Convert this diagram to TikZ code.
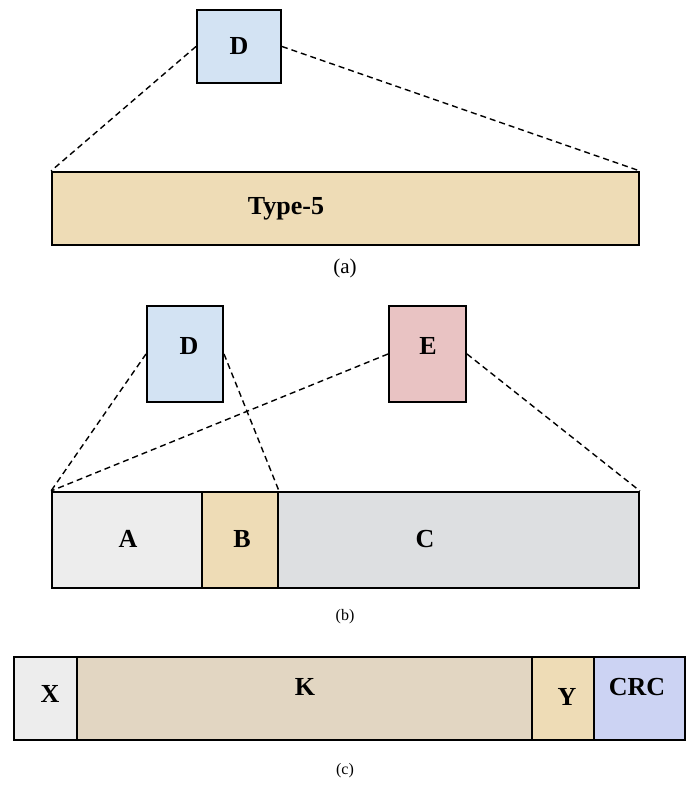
\documentclass[tikz,border=0pt]{standalone}
\usepackage{fontspec}
\setmainfont{Liberation Serif}
\definecolor{cD}{HTML}{D3E3F3}
\definecolor{cTan}{HTML}{EEDCB6}
\definecolor{cE}{HTML}{E9C3C3}
\definecolor{cA}{HTML}{EDEDED}
\definecolor{cC}{HTML}{DDDFE1}
\definecolor{cK}{HTML}{E2D6C2}
\definecolor{cCRC}{HTML}{CCD3F3}
\begin{document}
\begin{tikzpicture}[x=1pt,y=-1pt,
  box/.style={draw=black,line width=2pt,inner sep=0pt,anchor=north west},
  conn/.style={dashed,line width=1.4pt,dash pattern=on 6pt off 4pt},
  big/.style={font=\fontsize{26}{26}\selectfont\bfseries},
  captext/.style={font=\fontsize{21}{21}\selectfont},
  capsmall/.style={font=\fontsize{16}{16}\selectfont}]
\useasboundingbox (0,0) rectangle (690,791);
% (a)
\node[box,fill=cD,minimum width=84pt,minimum height=73pt] (Da) at (196,9) {};
\node[box,fill=cTan,minimum width=587pt,minimum height=73pt] (T5) at (51,171) {};
\node[big] (lDa) at (239,46) {D};
\node[big] (lT5) at (286,209) {Type-5};
\draw[conn] (Da.west) -- (T5.north west);
\draw[conn] (Da.east) -- (T5.north east);
\node[captext] (capa) at (345,268) {(a)};
% (b)
\node[box,fill=cD,minimum width=76pt,minimum height=96pt] (Db) at (146,305) {};
\node[box,fill=cE,minimum width=77pt,minimum height=96pt] (Eb) at (388,305) {};
\node[big] (lDb) at (189,346) {D};
\node[big] (lEb) at (428,346) {E};
\node[box,fill=cA,minimum width=150pt,minimum height=96pt] (Ab) at (51,491) {};
\node[box,fill=cTan,minimum width=76pt,minimum height=96pt] (Bb) at (201,491) {};
\node[box,fill=cC,minimum width=361pt,minimum height=96pt] (Cb) at (277,491) {};
\node[big] (lA) at (128,539) {A};
\node[big] (lB) at (242,539) {B};
\node[big] (lC) at (425,539) {C};
\draw[conn] (Db.west) -- (Ab.north west);
\draw[conn] (Db.east) -- (Bb.north east);
\draw[conn] (Eb.west) -- (Ab.north west);
\draw[conn] (Eb.east) -- (Cb.north east);
\node[capsmall] (capb) at (345,617) {(b)};
% (c)
\node[box,fill=cA,minimum width=63pt,minimum height=83pt] (Xc) at (13,656) {};
\node[box,fill=cK,minimum width=455pt,minimum height=83pt] (Kc) at (76,656) {};
\node[box,fill=cTan,minimum width=62pt,minimum height=83pt] (Yc) at (531,656) {};
\node[box,fill=cCRC,minimum width=91pt,minimum height=83pt] (CRCc) at (593,656) {};
\node[big] (lX) at (50,694) {X};
\node[big] (lK) at (305,687) {K};
\node[big] (lY) at (567,697) {Y};
\node[big] (lCRC) at (637,687) {CRC};
\node[capsmall] (capc) at (345,771) {(c)};
\end{tikzpicture}
\end{document}
